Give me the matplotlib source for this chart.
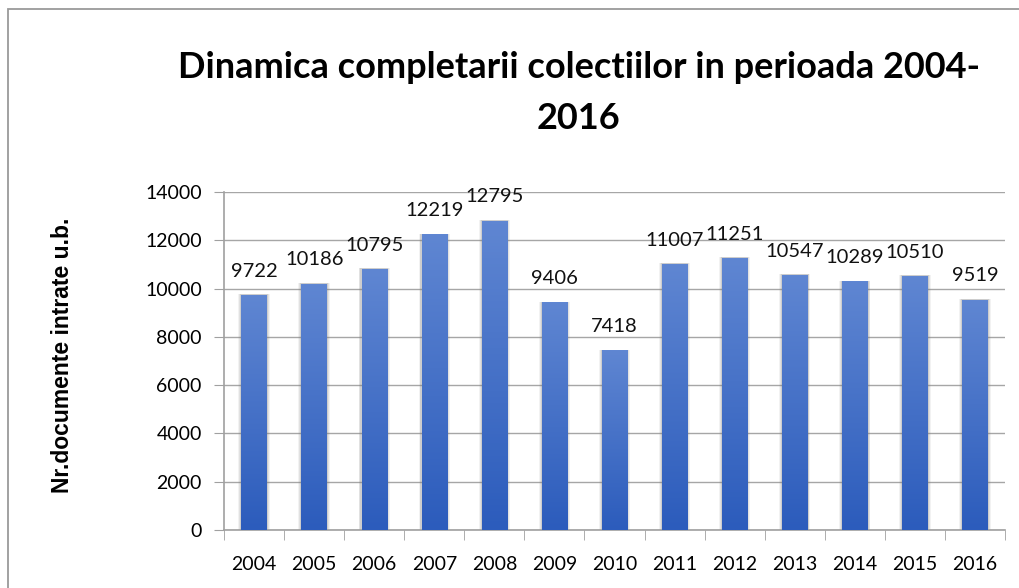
import numpy as np
import matplotlib
matplotlib.use('Agg')
from matplotlib import pyplot as plt
from matplotlib.patches import Rectangle
from matplotlib.colors import LinearSegmentedColormap

# date
ani = ["2004", "2005", "2006", "2007", "2008", "2009", "2010",
       "2011", "2012", "2013", "2014", "2015", "2016"]
documente = [9722, 10186, 10795, 12219, 12795, 9406, 7418,
             11007, 11251, 10547, 10289, 10510, 9519]
y_ticks = [0, 2000, 4000, 6000, 8000, 10000, 12000, 14000]

plt.rcParams['font.family'] = ['Lato', 'DejaVu Sans']

W, H = 1019, 588
fig = plt.figure(figsize=(W / 100, H / 100), dpi=100)

# chenarul graficului
fig.patches.append(Rectangle((8 / W, -0.1), 1.1, 1 - 9 / H + 0.1,
                             transform=fig.transFigure, fill=False,
                             edgecolor='#9a9a9a', linewidth=1.3))

ax = fig.add_axes([224 / W, 1 - 530 / H, (1005 - 224) / W, (530 - 192) / H])
x = np.arange(len(ani))
latime = 0.42

gradient = LinearSegmentedColormap.from_list('albastru', ['#2c5cbc', '#5f86d2'])
grad = np.linspace(0, 1, 100).reshape(-1, 1)

for i, v in enumerate(documente):
    # umbra
    for k, a in [(0.10, 0.10), (0.07, 0.15), (0.04, 0.2)]:
        ax.add_patch(Rectangle((i - latime / 2 - k / 2, 0), latime + k, v + 40,
                               facecolor='#808080', edgecolor='none', alpha=a, zorder=2))
    ax.imshow(grad, cmap=gradient, origin='lower', aspect='auto',
              extent=(i - latime / 2, i + latime / 2, 0, v), zorder=3)
    ax.text(i, v + 650, str(v), ha='center', va='bottom', fontsize=14.5, color='#111111')

ax.set_xlim(-0.5, len(ani) - 0.5)
ax.set_ylim(0, 14000)

ax.set_yticks(y_ticks)
ax.set_yticklabels([str(t) for t in y_ticks], fontsize=14)
ax.set_xticks(x)
ax.set_xticklabels(ani, fontsize=14)
ax.set_xticks(np.arange(-0.5, len(ani)), minor=True)
ax.tick_params(axis='x', which='major', length=0, pad=19)
ax.tick_params(axis='x', which='minor', length=7, color='#a0a0a0', direction='out')
ax.tick_params(axis='y', length=7, color='#a0a0a0', pad=9)

ax.grid(axis='y', color='#a6a6a6', linewidth=1)
ax.set_axisbelow(True)
for s in ['top', 'right']:
    ax.spines[s].set_visible(False)
for s in ['left', 'bottom']:
    ax.spines[s].set_color('#a0a0a0')
    ax.spines[s].set_linewidth(1.2)

fig.text(579 / W, 1 - 67 / H, "Dinamica completarii colectiilor in perioada 2004-",
         ha='center', va='center', fontsize=26, fontweight='bold')
fig.text(579 / W, 1 - 119 / H, "2016",
         ha='center', va='center', fontsize=26, fontweight='bold')

fig.text(63 / W, 1 - 355 / H, "Nr.documente intrate u.b.", rotation=90,
         ha='center', va='center', fontsize=16.5, fontweight='bold',
         family=['Liberation Sans', 'DejaVu Sans'])

plt.savefig('out.png', dpi=100)
